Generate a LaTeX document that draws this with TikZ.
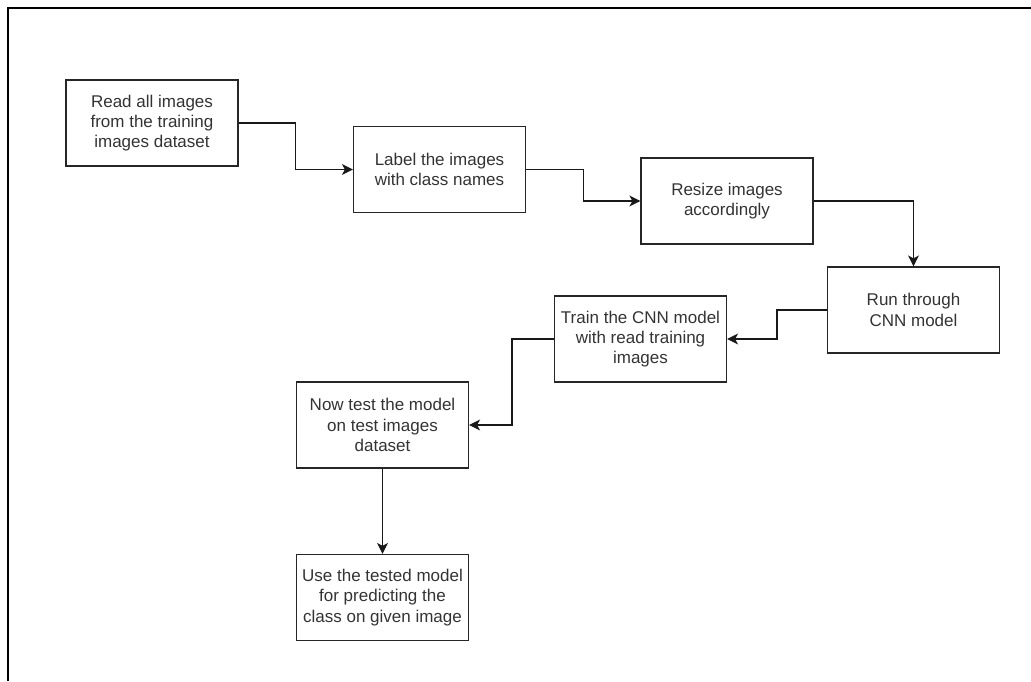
\documentclass[tikz,border=0pt]{standalone}
\usepackage{fontspec}
\setmainfont{Liberation Sans}
\usepackage{tikz}
\usetikzlibrary{arrows.meta}
\tikzset{
  stepbox/.style={draw=black!85, line width=1.2pt, minimum width=172pt, minimum height=86pt,
    align=center, text=black!80, font=\fontsize{17pt}{20.4pt}\selectfont, inner sep=0pt},
  flow/.style={draw=black!90, line width=1.2pt, -{Stealth[length=11pt,width=11pt,inset=3pt]}}
}

\begin{document}
\begin{tikzpicture}[x=1pt,y=-1pt]
\useasboundingbox (0,0) rectangle (1031,681);
\draw[line width=2pt] (8,681) -- (8,8) -- (1031,8);

\node(a)[stepbox] at (152,123) {Read all images\\from the training\\images dataset};
\node(b)[stepbox] at (439.5,169.5) {Label the images\\with class names};
\node(c)[stepbox] at (727,201) {Resize images\\accordingly};
\node(d)[stepbox] at (913.5,310) {Run through\\CNN model};
\node(e)[stepbox] at (640.5,339) {Train the CNN model\\with read training\\images};
\node(f)[stepbox] at (382.5,425) {Now test the model\\on test images\\dataset};
\node(g)[stepbox] at (382.5,597.5) {Use the tested model\\for predicting the\\class on given image};

\draw[flow] (a.east) -- +(57,0) |- (b.west);
\draw[flow] (b.east) -- +(57,0) |- (c.west);
\draw[flow] (c.east) -| (d.north);
\draw[flow] (d.west) -- +(-50,0) |- (e.east);
\draw[flow] (e.west) -- +(-42,0) |- (f.east);
\draw[flow] (f) -- (g);
\end{tikzpicture}
\end{document}
